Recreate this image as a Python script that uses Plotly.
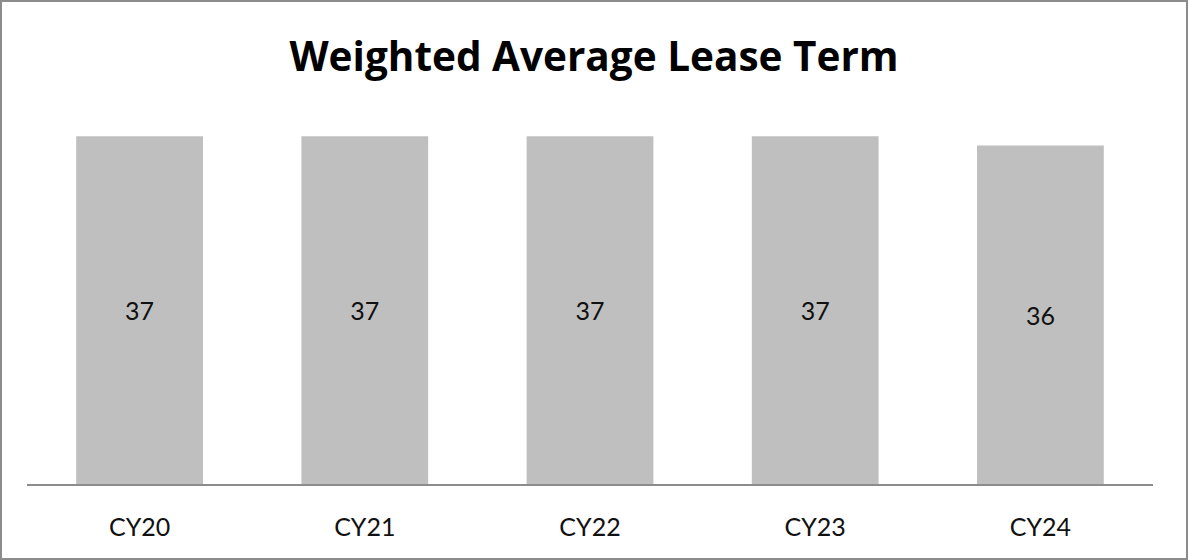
import plotly.graph_objects as go

# Weighted average lease term by calendar year
categories = ["CY20", "CY21", "CY22", "CY23", "CY24"]
lease_term = [37, 37, 37, 37, 36]

W, H = 1188, 560
ML, MR, MT, MB = 27, 35, 108, 76
plot_w = W - ML - MR
plot_h = H - MT - MB

fig = go.Figure(
    go.Bar(
        x=categories,
        y=lease_term,
        marker=dict(color="#bfbfbf", line=dict(width=0)),
        text=[str(v) for v in lease_term],
        textposition="inside",
        insidetextanchor="middle",
        textfont=dict(family="Lato", size=25, color="#111111"),
        hoverinfo="skip",
    )
)

fig.update_layout(
    width=W,
    height=H,
    margin=dict(l=ML, r=MR, t=MT, b=MB),
    paper_bgcolor="white",
    plot_bgcolor="white",
    bargap=0.437,
    showlegend=False,
    title=dict(
        text="<b>Weighted Average Lease Term</b>",
        x=0.5,
        xanchor="center",
        y=1 - 57 / H,
        yanchor="middle",
        font=dict(family="Open Sans", size=40.5, color="#000000"),
    ),
    xaxis=dict(
        showline=True,
        linecolor="#8c8c8c",
        linewidth=2,
        ticks="",
        ticklabelstandoff=20,
        tickfont=dict(family="Lato", size=25, color="#111111"),
        showgrid=False,
        zeroline=False,
    ),
    yaxis=dict(
        range=[0, 40],
        visible=False,
        showgrid=False,
        zeroline=False,
    ),
    shapes=[
        dict(
            type="rect",
            xref="paper",
            yref="paper",
            x0=(-ML + 1) / plot_w,
            x1=1 + (MR - 1) / plot_w,
            y0=(-MB + 1) / plot_h,
            y1=1 + (MT - 1) / plot_h,
            line=dict(color="#8c8c8c", width=2),
            fillcolor="rgba(0,0,0,0)",
            layer="above",
        )
    ],
)

fig.write_html("out.html")
